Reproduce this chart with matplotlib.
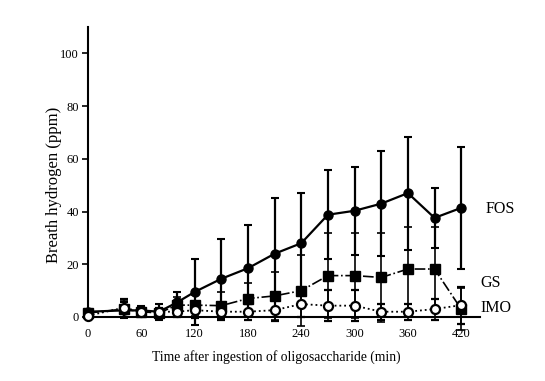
import numpy as np
import matplotlib
matplotlib.use('Agg')
import matplotlib.pyplot as plt

# Time points (min) and mean +/- SD breath hydrogen (ppm)
times = [0, 40, 60, 80, 100, 120, 150, 180, 210, 240, 270, 300, 330, 360, 390, 420]

fos = [2, 2.5, 2.5, 2, 5.5, 9.5, 14.5, 18.5, 24, 28, 38.8, 40.3, 43, 47, 37.6, 41.4]
fos_sd = [1, 3, 1.5, 3, 4, 12.5, 15, 16.5, 21, 19, 16.8, 16.7, 20, 21.4, 11.4, 23.2]

gs = [1.5, 3, 2, 1.5, 4.5, 4.5, 4.3, 7, 8, 10, 15.7, 15.7, 15, 18.2, 18.2, 3]
gs_sd = [1, 3, 1, 2, 3, 4, 5, 6, 9, 13.6, 16, 16, 17, 16, 16, 8]

imo = [0.5, 3.5, 2, 2, 2, 2.6, 2, 2, 2.6, 4.9, 4.3, 4.3, 2, 2, 3, 4.5]
imo_sd = [1, 3.5, 1, 1.5, 2, 3, 3, 3, 4, 5, 6, 6, 3, 3, 4, 7]

xticks = [0, 60, 120, 180, 240, 300, 360, 420]
yticks = [0, 20, 40, 60, 80, 100]

plt.rcParams['font.family'] = ['Liberation Serif', 'DejaVu Serif']

fig = plt.figure(figsize=(5.45, 3.81), dpi=100)
ax = fig.add_axes([0.1615, 0.168, 0.719, 0.761])

# FOS - filled circles, solid line
ax.errorbar(times, fos, yerr=fos_sd, fmt='-o', color='black', mfc='black', mec='black',
            ms=6.5, lw=1.6, elinewidth=1.6, capsize=3, capthick=1.5, clip_on=False, zorder=3)
# GS - filled squares, dash-dot line
ax.errorbar(times, gs, yerr=gs_sd, fmt='-.s', color='black', mfc='black', mec='black',
            ms=6.5, lw=1.2, elinewidth=1.2, capsize=3, capthick=1.2, clip_on=False, zorder=4)
# IMO - open circles, dotted line
ax.errorbar(times, imo, yerr=imo_sd, fmt=':o', color='black', mfc='white', mec='black',
            ms=6.5, mew=1.6, lw=1.3, elinewidth=1.2, capsize=3, capthick=1.2, clip_on=False, zorder=5)

ax.set_xlim(0, 441)
ax.set_ylim(0, 110)
ax.set_xticks(xticks)
ax.set_yticks(yticks)
ax.tick_params(axis='y', direction='out', length=4, width=1.2, labelsize=9, pad=2.5)
ax.tick_params(axis='x', direction='out', length=0, labelsize=9, pad=8)

for side in ['top', 'right']:
    ax.spines[side].set_visible(False)
for side in ['left', 'bottom']:
    ax.spines[side].set_linewidth(1.5)

ax.set_xlabel('Time after ingestion of oligosaccharide (min)', fontsize=9.8)
ax.xaxis.set_label_coords(0.48, -0.115)
ax.set_ylabel('Breath hydrogen (ppm)', fontsize=12)
ax.yaxis.set_label_coords(-0.066, 0.455)

# series labels at the right end
ax.text(448, 41, 'FOS', fontsize=11.5, va='center', ha='left')
ax.text(442, 13, 'GS', fontsize=11.5, va='center', ha='left')
ax.text(442, 3.3, 'IMO', fontsize=11.5, va='center', ha='left')

plt.savefig('out.png', dpi=100)
